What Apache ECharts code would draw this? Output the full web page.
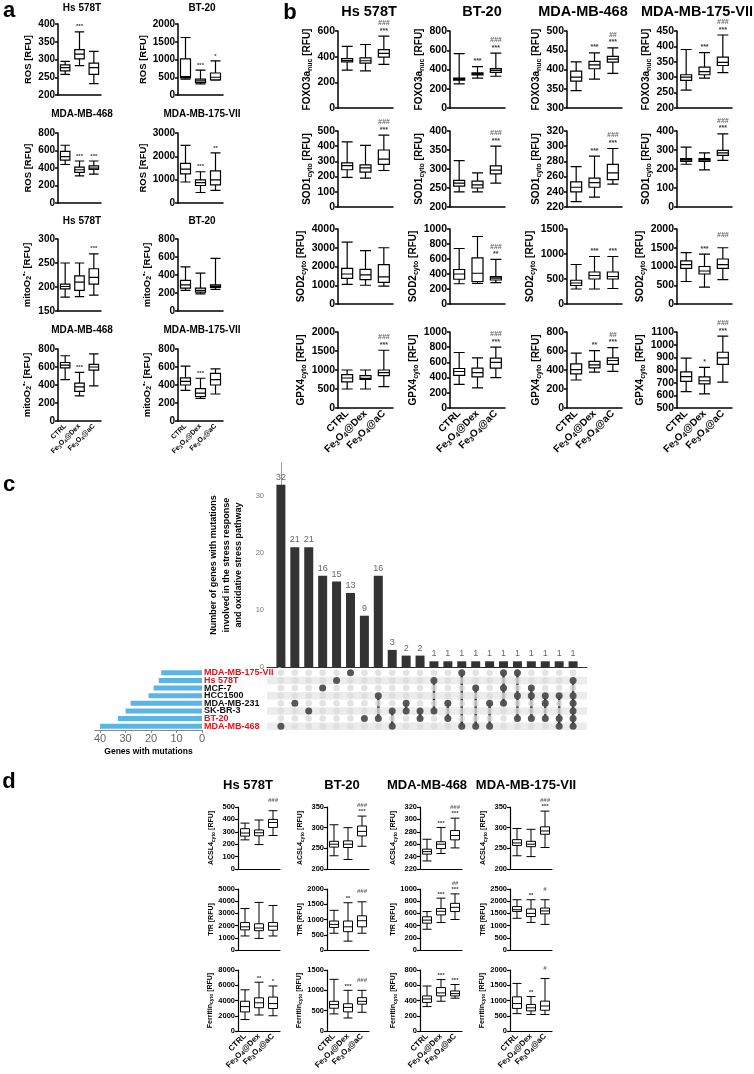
<!DOCTYPE html>
<html>
<head>
<meta charset="utf-8">
<script src="https://cdn.jsdelivr.net/npm/echarts@6/dist/echarts.min.js"></script>
<style>
  html, body { margin: 0; padding: 0; background: #fff; }
  #chart { width: 754px; height: 1074px; }
</style>
</head>
<body>
<div id="chart"></div>
<script>
var FONT = '"Liberation Sans", Arial, Helvetica, sans-serif';

// treatment groups (x categories of every box plot)
var groups = ['CTRL', 'Fe3O4@Dex', 'Fe3O4@aC'];
var groupLabels = ['CTRL', 'Fe{s|3}O{s|4}@Dex', 'Fe{s|3}O{s|4}@aC'];
var cellLines = ['Hs 578T', 'BT-20', 'MDA-MB-468', 'MDA-MB-175-VII'];

// ---- panel a : box values [min, q1, median, q3, max] per group
var aRosHs = [[258, 268, 277, 285, 295], [283, 302, 315, 328, 378], [232, 258, 277, 290, 323]];
var aRosBt = [[450, 490, 520, 1020, 1620], [310, 350, 400, 450, 700], [420, 430, 500, 620, 960]];
var aRos468 = [[440, 490, 530, 590, 660], [310, 350, 380, 410, 480], [330, 385, 400, 425, 480]];
var aRos175 = [[900, 1250, 1450, 1700, 2470], [450, 750, 870, 990, 1340], [540, 780, 990, 1380, 2150]];
var aMitoHs = [[179, 196, 201, 206, 250], [180, 193, 210, 223, 250], [183, 206, 220, 238, 269]];
var aMitoBt = [[230, 255, 290, 340, 490], [190, 210, 230, 255, 420], [240, 262, 275, 290, 585]];
var aMito468 = [[460, 590, 620, 650, 725], [280, 330, 380, 420, 540], [390, 565, 600, 630, 745]];
var aMito175 = [[340, 400, 440, 480, 610], [250, 270, 310, 360, 475], [300, 400, 460, 530, 580]];
var aRosHsSig = ['', '***', ''];
var aRosBtSig = ['', '***', '*'];
var aRos468Sig = ['', '***', '***'];
var aRos175Sig = ['', '***', '**'];
var aMitoHsSig = ['', '', '***'];
var aMitoBtSig = ['', '', ''];
var aMito468Sig = ['', '***', ''];
var aMito175Sig = ['', '***', ''];

// ---- panel b
var bFoxoHs = [[295, 360, 370, 385, 480], [290, 350, 368, 390, 495], [340, 397, 425, 455, 560]];
var bFoxoBt = [[250, 290, 300, 310, 565], [310, 345, 355, 365, 430], [330, 370, 390, 410, 570]];
var bFoxo468 = [[345, 370, 380, 396, 420], [375, 402, 412, 421, 443], [390, 419, 427, 434, 456]];
var bFoxo175 = [[258, 290, 300, 308, 390], [297, 308, 318, 333, 380], [315, 338, 348, 365, 437]];
var bSod1Hs = [[195, 245, 272, 290, 428], [190, 230, 258, 277, 405], [240, 280, 315, 375, 473]];
var bSod1Bt = [[240, 255, 263, 270, 322], [240, 250, 258, 268, 290], [263, 287, 297, 308, 360]];
var bSod1468 = [[227, 240, 246, 253, 273], [233, 246, 252, 258, 287], [250, 256, 265, 276, 297]];
var bSod1175 = [[225, 240, 248, 255, 315], [195, 240, 248, 255, 285], [245, 272, 285, 298, 385]];
var bSod2Hs = [[1050, 1370, 1600, 1900, 3300], [1000, 1300, 1550, 1850, 2850], [950, 1150, 1450, 2100, 3000]];
var bSod2Bt = [[270, 330, 400, 460, 740], [275, 300, 410, 615, 900], [285, 320, 345, 365, 595]];
var bSod2468 = [[300, 370, 420, 475, 790], [300, 500, 570, 640, 950], [310, 500, 550, 640, 950]];
var bSod2175 = [[600, 950, 1050, 1150, 1370], [450, 800, 880, 1000, 1330], [650, 950, 1050, 1200, 1500]];
var bGpxHs = [[500, 690, 790, 880, 1000], [500, 750, 780, 850, 1000], [560, 850, 930, 1000, 1520]];
var bGpxBt = [[310, 430, 480, 520, 730], [265, 410, 465, 525, 660], [400, 525, 600, 655, 800]];
var bGpx468 = [[295, 360, 405, 465, 578], [378, 423, 455, 490, 605], [385, 460, 500, 528, 635]];
var bGpx175 = [[630, 710, 748, 785, 893], [612, 690, 715, 745, 820], [705, 845, 895, 940, 1068]];
var bFoxoHsSig = ['', '', '***'], bFoxoHsSig2 = ['', '', '###'];
var bFoxoBtSig = ['', '***', '***'], bFoxoBtSig2 = ['', '', '###'];
var bFoxo468Sig = ['', '***', '***'], bFoxo468Sig2 = ['', '', '##'];
var bFoxo175Sig = ['', '***', '***'], bFoxo175Sig2 = ['', '', '###'];
var bSod1HsSig = ['', '', '***'], bSod1HsSig2 = ['', '', '###'];
var bSod1BtSig = ['', '', '***'], bSod1BtSig2 = ['', '', '###'];
var bSod1468Sig = ['', '***', '***'], bSod1468Sig2 = ['', '', '###'];
var bSod1175Sig = ['', '', '***'], bSod1175Sig2 = ['', '', '###'];
var bSod2HsSig = ['', '', ''], bSod2HsSig2 = ['', '', ''];
var bSod2BtSig = ['', '', '**'], bSod2BtSig2 = ['', '', '###'];
var bSod2468Sig = ['', '***', '***'], bSod2468Sig2 = ['', '', ''];
var bSod2175Sig = ['', '***', ''], bSod2175Sig2 = ['', '', '###'];
var bGpxHsSig = ['', '', '***'], bGpxHsSig2 = ['', '', '###'];
var bGpxBtSig = ['', '', '***'], bGpxBtSig2 = ['', '', '###'];
var bGpx468Sig = ['', '**', '***'], bGpx468Sig2 = ['', '', '##'];
var bGpx175Sig = ['', '*', '***'], bGpx175Sig2 = ['', '', '###'];

// ---- panel c (UpSet)
var setNames = ['MDA-MB-175-VII', 'Hs 578T', 'MCF-7', 'HCC1500', 'MDA-MB-231', 'SK-BR-3', 'BT-20', 'MDA-MB-468'];
var setSizes = [16, 17, 19, 21, 28, 30, 33, 40];
var setRed = [true, true, false, false, false, false, true, true];
var interCounts = [32, 21, 21, 16, 15, 13, 9, 16, 3, 2, 2, 1, 1, 1, 1, 1, 1, 1, 1, 1, 1, 1];
var interMembers = [[7], [4], [5], [2], [1], [0], [6], [3, 6], [5, 7], [4, 5], [5, 6], [1, 5], [4, 6], [0, 7], [2, 7], [4, 7],
  [0, 2, 4], [0, 3, 6], [2, 3, 6], [3, 4, 6], [3, 6, 7], [1, 3, 4, 5, 6, 7]];
var barTicks = [0, 10, 20, 30];
var geneTicks = [0, 10, 20, 30, 40];

// ---- panel d
var dAcslHs = [[235, 265, 290, 325, 370], [197, 268, 292, 315, 395], [270, 335, 375, 400, 470]];
var dAcslBt = [[232, 253, 260, 267, 307], [223, 252, 260, 268, 300], [255, 280, 291, 304, 328]];
var dAcsl468 = [[233, 244, 248, 252, 268], [245, 253, 260, 264, 287], [254, 267, 274, 282, 302]];
var dAcsl175 = [[232, 257, 263, 271, 298], [230, 254, 260, 267, 296], [252, 284, 292, 302, 340]];
var dTfrHs = [[1150, 1650, 1900, 2250, 3400], [950, 1580, 1800, 2150, 3900], [1150, 1620, 1950, 2250, 3650]];
var dTfrBt = [[550, 740, 840, 950, 1300], [290, 600, 760, 950, 1550], [550, 760, 960, 1120, 1580]];
var dTfr468 = [[340, 440, 490, 545, 630], [450, 575, 635, 680, 850], [500, 630, 700, 765, 920]];
var dTfr175 = [[1300, 1580, 1650, 1780, 2060], [1130, 1370, 1500, 1680, 2060], [1050, 1480, 1600, 1720, 2060]];
var dFerHs = [[1500, 2500, 3200, 3900, 5400], [2100, 3050, 3700, 4350, 6400], [2000, 2950, 3600, 4450, 5900]];
var dFerBt = [[420, 560, 650, 730, 1270], [320, 470, 580, 670, 1000], [460, 660, 730, 820, 1000]];
var dFer468 = [[320, 375, 420, 460, 590], [390, 460, 500, 570, 675], [430, 460, 490, 525, 610]];
var dFer175 = [[570, 740, 900, 1120, 1560], [540, 660, 760, 870, 1130], [540, 680, 820, 980, 1720]];
var dAcslHsSig = ['', '', ''], dAcslHsSig2 = ['', '', '###'];
var dAcslBtSig = ['', '', '***'], dAcslBtSig2 = ['', '', '###'];
var dAcsl468Sig = ['', '***', '***'], dAcsl468Sig2 = ['', '', '###'];
var dAcsl175Sig = ['', '', '***'], dAcsl175Sig2 = ['', '', '###'];
var dTfrHsSig = ['', '', ''], dTfrHsSig2 = ['', '', ''];
var dTfrBtSig = ['', '**', ''], dTfrBtSig2 = ['', '', '###'];
var dTfr468Sig = ['', '***', '***'], dTfr468Sig2 = ['', '', '##'];
var dTfr175Sig = ['', '**', ''], dTfr175Sig2 = ['', '', '#'];
var dFerHsSig = ['', '**', '*'], dFerHsSig2 = ['', '', ''];
var dFerBtSig = ['', '***', ''], dFerBtSig2 = ['', '', '###'];
var dFer468Sig = ['', '***', '***'], dFer468Sig2 = ['', '', ''];
var dFer175Sig = ['', '**', ''], dFer175Sig2 = ['', '', '#'];

// axis names (rich text for sub/superscripts)
var ROS = 'ROS [RFU]';
var MITO = 'mitoO{sub|2}{sup|•-} [RFU]';

// which box plot goes where: c = column, r = row
var panelA = [
  {data: aRosHs, sig: aRosHsSig, name: ROS, min: 200, max: 400, step: 50, c: 0, r: 0},
  {data: aRosBt, sig: aRosBtSig, name: ROS, min: 0, max: 2000, step: 500, c: 1, r: 0},
  {data: aRos468, sig: aRos468Sig, name: ROS, min: 0, max: 800, step: 200, c: 0, r: 1},
  {data: aRos175, sig: aRos175Sig, name: ROS, min: 0, max: 3000, step: 1000, c: 1, r: 1},
  {data: aMitoHs, sig: aMitoHsSig, name: MITO, min: 150, max: 300, step: 50, c: 0, r: 2},
  {data: aMitoBt, sig: aMitoBtSig, name: MITO, min: 0, max: 800, step: 200, c: 1, r: 2},
  {data: aMito468, sig: aMito468Sig, name: MITO, min: 0, max: 800, step: 200, c: 0, r: 3},
  {data: aMito175, sig: aMito175Sig, name: MITO, min: 0, max: 800, step: 200, c: 1, r: 3}
];
var panelATitles = [['Hs 578T', 'BT-20'], ['MDA-MB-468', 'MDA-MB-175-VII'], ['Hs 578T', 'BT-20'], ['MDA-MB-468', 'MDA-MB-175-VII']];

var FOXO = 'FOXO3a{sub|nuc} [RFU]', SOD1 = 'SOD1{sub|cyto} [RFU]', SOD2 = 'SOD2{sub|cyto} [RFU]', GPX4 = 'GPX4{sub|cyto} [RFU]';
var panelB = [
  {data: bFoxoHs, sig: bFoxoHsSig, sig2: bFoxoHsSig2, name: FOXO, min: 0, max: 600, step: 200, c: 0, r: 0},
  {data: bFoxoBt, sig: bFoxoBtSig, sig2: bFoxoBtSig2, name: FOXO, min: 0, max: 800, step: 200, c: 1, r: 0},
  {data: bFoxo468, sig: bFoxo468Sig, sig2: bFoxo468Sig2, name: FOXO, min: 300, max: 500, step: 50, c: 2, r: 0},
  {data: bFoxo175, sig: bFoxo175Sig, sig2: bFoxo175Sig2, name: FOXO, min: 200, max: 450, step: 50, c: 3, r: 0},
  {data: bSod1Hs, sig: bSod1HsSig, sig2: bSod1HsSig2, name: SOD1, min: 0, max: 500, step: 100, c: 0, r: 1},
  {data: bSod1Bt, sig: bSod1BtSig, sig2: bSod1BtSig2, name: SOD1, min: 200, max: 400, step: 50, c: 1, r: 1},
  {data: bSod1468, sig: bSod1468Sig, sig2: bSod1468Sig2, name: SOD1, min: 220, max: 320, step: 20, c: 2, r: 1},
  {data: bSod1175, sig: bSod1175Sig, sig2: bSod1175Sig2, name: SOD1, min: 0, max: 400, step: 100, c: 3, r: 1},
  {data: bSod2Hs, sig: bSod2HsSig, sig2: bSod2HsSig2, name: SOD2, min: 0, max: 4000, step: 1000, c: 0, r: 2},
  {data: bSod2Bt, sig: bSod2BtSig, sig2: bSod2BtSig2, name: SOD2, min: 0, max: 1000, step: 200, c: 1, r: 2},
  {data: bSod2468, sig: bSod2468Sig, sig2: bSod2468Sig2, name: SOD2, min: 0, max: 1500, step: 500, c: 2, r: 2},
  {data: bSod2175, sig: bSod2175Sig, sig2: bSod2175Sig2, name: SOD2, min: 0, max: 2000, step: 500, c: 3, r: 2},
  {data: bGpxHs, sig: bGpxHsSig, sig2: bGpxHsSig2, name: GPX4, min: 0, max: 2000, step: 500, c: 0, r: 3},
  {data: bGpxBt, sig: bGpxBtSig, sig2: bGpxBtSig2, name: GPX4, min: 0, max: 1000, step: 200, c: 1, r: 3},
  {data: bGpx468, sig: bGpx468Sig, sig2: bGpx468Sig2, name: GPX4, min: 0, max: 800, step: 200, c: 2, r: 3},
  {data: bGpx175, sig: bGpx175Sig, sig2: bGpx175Sig2, name: GPX4, min: 500, max: 1100, step: 100, c: 3, r: 3}
];

var ACSL = 'ACSL4{sub|cyto} [RFU]', TFR = 'TfR [RFU]', FER = 'Ferritin{sub|cyto} [RFU]';
var panelD = [
  {data: dAcslHs, sig: dAcslHsSig, sig2: dAcslHsSig2, name: ACSL, min: 0, max: 500, step: 100, c: 0, r: 0},
  {data: dAcslBt, sig: dAcslBtSig, sig2: dAcslBtSig2, name: ACSL, min: 200, max: 350, step: 50, c: 1, r: 0},
  {data: dAcsl468, sig: dAcsl468Sig, sig2: dAcsl468Sig2, name: ACSL, min: 220, max: 320, step: 20, c: 2, r: 0},
  {data: dAcsl175, sig: dAcsl175Sig, sig2: dAcsl175Sig2, name: ACSL, min: 200, max: 350, step: 50, c: 3, r: 0},
  {data: dTfrHs, sig: dTfrHsSig, sig2: dTfrHsSig2, name: TFR, min: 0, max: 5000, step: 1000, c: 0, r: 1},
  {data: dTfrBt, sig: dTfrBtSig, sig2: dTfrBtSig2, name: TFR, min: 0, max: 2000, step: 500, c: 1, r: 1},
  {data: dTfr468, sig: dTfr468Sig, sig2: dTfr468Sig2, name: TFR, min: 0, max: 1000, step: 200, c: 2, r: 1},
  {data: dTfr175, sig: dTfr175Sig, sig2: dTfr175Sig2, name: TFR, min: 0, max: 2500, step: 500, c: 3, r: 1},
  {data: dFerHs, sig: dFerHsSig, sig2: dFerHsSig2, name: FER, min: 0, max: 8000, step: 2000, c: 0, r: 2},
  {data: dFerBt, sig: dFerBtSig, sig2: dFerBtSig2, name: FER, min: 0, max: 1500, step: 500, c: 1, r: 2},
  {data: dFer468, sig: dFer468Sig, sig2: dFer468Sig2, name: FER, min: 0, max: 800, step: 200, c: 2, r: 2},
  {data: dFer175, sig: dFer175Sig, sig2: dFer175Sig2, name: FER, min: 0, max: 2000, step: 500, c: 3, r: 2}
];

// layouts
var layA = {x: [58, 178], w: [43, 45], y: [24, 133, 239, 349], h: [71, 70, 72, 72], lastRow: 3,
  st: {lw: 1.5, xfs: 7, yfs: 10, nfs: 9.5, gap: 25, bw: [9, 10], bl: 1.2, sfs: 6}};
var layB = {x: [338, 450, 567, 677], w: [55, 55, 55, 55], y: [31, 131, 229, 332], h: [77, 76, 75, 76], lastRow: 3,
  st: {lw: 1.5, xfs: 10, yfs: 10.5, nfs: 10, gap: 23, bw: [10, 11], bl: 1.2, sfs: 7}};
var layD = {x: [238, 327, 420, 510], w: [42, 42, 42, 42], y: [807, 889, 970], h: [62, 61, 61], lastRow: 2,
  st: {lw: 1.2, xfs: 8, yfs: 7.5, nfs: 7, gap: 22, bw: [8, 9], bl: 1, sfs: 6}};

var grids = [], xAxes = [], yAxes = [], series = [], texts = [];

function plain(v) { return String(v); }

function addBox(p, lay) {
  var st = lay.st;
  var gi = grids.length;
  grids.push({left: lay.x[p.c], top: lay.y[p.r], width: lay.w[p.c], height: lay.h[p.r], outerBoundsMode: 'none'});
  xAxes.push({
    type: 'category', gridIndex: gi, data: groups,
    axisLine: {lineStyle: {color: '#000', width: st.lw}},
    axisTick: {alignWithLabel: true, length: 3, lineStyle: {color: '#000', width: st.lw}},
    axisLabel: {
      show: p.r === lay.lastRow, interval: 0, rotate: 45, margin: 4,
      color: '#000', fontFamily: FONT, fontWeight: 'bold', fontSize: st.xfs,
      formatter: function (v, i) { return groupLabels[i]; },
      rich: {s: {fontSize: Math.round(st.xfs * 0.7), fontWeight: 'bold', fontFamily: FONT, color: '#000',
        padding: [Math.round(st.xfs * 0.5), 0, 0, 0]}}
    }
  });
  yAxes.push({
    type: 'value', gridIndex: gi, min: p.min, max: p.max, interval: p.step,
    name: p.name, nameLocation: 'middle', nameGap: st.gap,
    nameTextStyle: {
      fontSize: st.nfs, fontWeight: 'bold', color: '#000', fontFamily: FONT,
      rich: {
        sub: {fontSize: Math.round(st.nfs * 0.72), fontWeight: 'bold', fontFamily: FONT, color: '#000', padding: [Math.round(st.nfs * 0.55), 0, 0, 0]},
        sup: {fontSize: Math.round(st.nfs * 0.72), fontWeight: 'bold', fontFamily: FONT, color: '#000', padding: [0, 0, Math.round(st.nfs * 0.55), 0]}
      }
    },
    axisLine: {show: true, lineStyle: {color: '#000', width: st.lw}},
    axisTick: {show: true, length: 3, lineStyle: {color: '#000', width: st.lw}},
    axisLabel: {fontSize: st.yfs, fontWeight: 'bold', color: '#000', fontFamily: FONT, margin: 3, formatter: plain},
    splitLine: {show: false}
  });
  series.push({
    type: 'boxplot', xAxisIndex: gi, yAxisIndex: gi, data: p.data, boxWidth: st.bw, silent: true,
    itemStyle: {color: '#fff', borderColor: '#000', borderWidth: st.bl}
  });
  var range = p.max - p.min;
  var marks = [];
  for (var i = 0; i < 3; i++) {
    if (p.sig && p.sig[i]) {
      marks.push({name: p.sig[i], value: [i, p.data[i][4] + range * 0.07], label: {color: '#000'}});
    }
    if (p.sig2 && p.sig2[i]) {
      marks.push({name: p.sig2[i], value: [i, p.data[i][4] + range * 0.17], label: {color: '#444', fontStyle: 'italic'}});
    }
  }
  if (marks.length) {
    series.push({
      type: 'scatter', xAxisIndex: gi, yAxisIndex: gi, data: marks, symbolSize: 1, clip: false, silent: true,
      itemStyle: {color: 'rgba(0,0,0,0)'},
      label: {show: true, position: 'inside', formatter: '{b}', fontSize: st.sfs, fontWeight: 'bold', fontFamily: FONT}
    });
  }
}

function addText(str, x, y, size, color) {
  texts.push({
    type: 'text', x: x, y: y, silent: true,
    style: {text: str, fontSize: size, fontWeight: 'bold', fontFamily: FONT, fill: color || '#000',
      align: 'center', verticalAlign: 'middle'}
  });
}

panelA.forEach(function (p) { addBox(p, layA); });
panelB.forEach(function (p) { addBox(p, layB); });
panelD.forEach(function (p) { addBox(p, layD); });

// titles and panel letters
var aTitleX = [82, 202], aTitleY = [8, 114, 221, 330];
panelATitles.forEach(function (row, r) {
  row.forEach(function (t, c) { addText(t, aTitleX[c], aTitleY[r], 10); });
});
[369, 482, 583, 697].forEach(function (x, i) { addText(cellLines[i], x, 12, 14.5); });
[248, 342, 427, 526].forEach(function (x, i) { addText(cellLines[i], x, 785, 13); });
addText('a', 9, 11, 22);
addText('b', 290, 13, 22);
addText('c', 9, 485, 22);
addText('d', 9, 782, 22);

// ---- panel c : UpSet
var gBar = grids.length;
grids.push({left: 267, top: 463, width: 320, height: 204, outerBoundsMode: 'none'});
xAxes.push({type: 'value', gridIndex: gBar, min: -1, max: 22,
  axisLine: {show: true, onZero: false, lineStyle: {color: '#333', width: 1}},
  axisTick: {show: false}, axisLabel: {show: false}, splitLine: {show: false}});
yAxes.push({type: 'value', gridIndex: gBar, min: 0, max: 35.8,
  name: 'Number of genes with mutations\ninvolved in the stress response\nand oxidative stress pathway',
  nameLocation: 'middle', nameGap: 22,
  nameTextStyle: {fontSize: 9, fontWeight: 'bold', color: '#000', fontFamily: FONT, lineHeight: 12.5, align: 'center'},
  axisLine: {show: true, lineStyle: {color: '#999', width: 1}},
  axisTick: {show: true, length: 3, customValues: barTicks, lineStyle: {color: '#999'}},
  axisLabel: {fontSize: 7.5, color: '#777', fontFamily: FONT, margin: 3, customValues: barTicks},
  splitLine: {show: false}});
series.push({type: 'bar', xAxisIndex: gBar, yAxisIndex: gBar, barWidth: 9, silent: true,
  data: interCounts.map(function (v, i) { return [i, v]; }),
  itemStyle: {color: '#333'},
  label: {show: true, position: 'top', distance: 3, color: '#666', fontSize: 9, fontFamily: FONT,
    formatter: function (p) { return p.value[1]; }}});

var gMat = grids.length;
grids.push({left: 267, top: 669, width: 320, height: 61, outerBoundsMode: 'none'});
xAxes.push({type: 'value', gridIndex: gMat, min: -1, max: 22, show: false});
yAxes.push({type: 'category', gridIndex: gMat, data: setNames, inverse: true,
  axisLine: {show: false}, axisTick: {show: false}, axisLabel: {show: false, interval: 0},
  splitLine: {show: false},
  splitArea: {show: true, interval: 0, areaStyle: {color: ['rgba(0,0,0,0)', '#ececec']}}});
var allDots = [], onDots = [], spans = [];
interMembers.forEach(function (m, i) {
  for (var r = 0; r < setNames.length; r++) allDots.push([i, r]);
  m.forEach(function (r) { onDots.push([i, r]); });
  spans.push([i, Math.min.apply(null, m), Math.max.apply(null, m)]);
});
series.push({type: 'scatter', xAxisIndex: gMat, yAxisIndex: gMat, data: allDots, symbolSize: 6.5, silent: true,
  itemStyle: {color: '#dcdcdc'}});
series.push({type: 'custom', xAxisIndex: gMat, yAxisIndex: gMat, data: spans, silent: true,
  renderItem: function (params, api) {
    var a = api.coord([api.value(0), api.value(1)]);
    var b = api.coord([api.value(0), api.value(2)]);
    return {type: 'line', shape: {x1: a[0], y1: a[1], x2: b[0], y2: b[1]}, style: {stroke: '#333', lineWidth: 2.4}};
  }});
series.push({type: 'scatter', xAxisIndex: gMat, yAxisIndex: gMat, data: onDots, symbolSize: 7, silent: true,
  itemStyle: {color: '#333'}});

var gSet = grids.length;
grids.push({left: 95, top: 669, width: 107, height: 61, outerBoundsMode: 'none'});
xAxes.push({type: 'value', gridIndex: gSet, min: 0, max: 42, inverse: true,
  name: 'Genes with mutations', nameLocation: 'middle', nameGap: 17,
  nameTextStyle: {fontSize: 8.5, fontWeight: 'bold', color: '#000', fontFamily: FONT},
  axisLine: {show: true, lineStyle: {color: '#888'}},
  axisTick: {show: true, length: 3, customValues: geneTicks, lineStyle: {color: '#888'}},
  axisLabel: {fontSize: 11, color: '#666', fontFamily: FONT, margin: 3, customValues: geneTicks},
  splitLine: {show: false}});
yAxes.push({type: 'category', gridIndex: gSet, data: setNames, inverse: true, position: 'right',
  axisLine: {show: false}, axisTick: {show: false},
  axisLabel: {margin: 2, align: 'left', interval: 0,
    formatter: function (v, i) { return (setRed[i] ? '{r|' : '{k|') + v + '}'; },
    rich: {
      r: {color: '#e8141b', fontSize: 9, fontWeight: 'bold', fontFamily: FONT},
      k: {color: '#111', fontSize: 9, fontWeight: 'bold', fontFamily: FONT}
    }}});
series.push({type: 'bar', xAxisIndex: gSet, yAxisIndex: gSet, data: setSizes, barWidth: 5, silent: true,
  itemStyle: {color: '#5ab4e6'}});

var chart = echarts.init(document.getElementById('chart'));
chart.setOption({
  animation: false,
  backgroundColor: '#fff',
  textStyle: {fontFamily: FONT},
  grid: grids,
  xAxis: xAxes,
  yAxis: yAxes,
  series: series,
  graphic: texts
});
</script>
</body>
</html>
